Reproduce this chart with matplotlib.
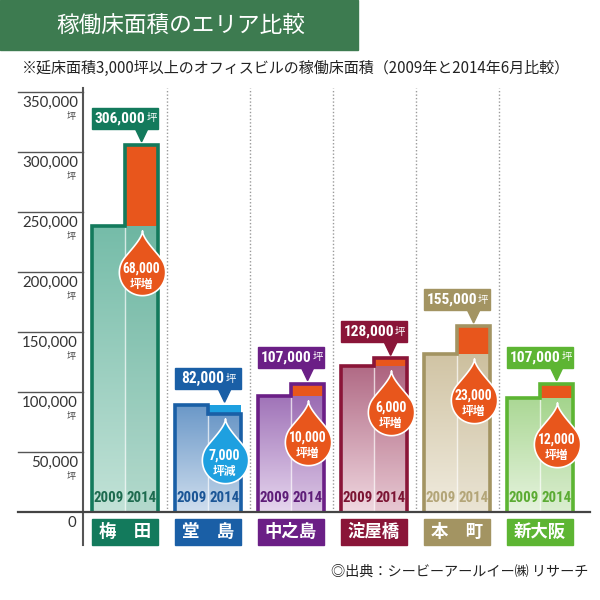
import numpy as np
import matplotlib
matplotlib.use('Agg')
import matplotlib.pyplot as plt
import matplotlib.transforms as mtransforms
from matplotlib import font_manager
from matplotlib.font_manager import FontProperties
from matplotlib.path import Path
from matplotlib.patches import Polygon, Rectangle
from matplotlib.colors import LinearSegmentedColormap

# fonts
JP = 'Noto Sans CJK JP'
plt.rcParams['font.family'] = [JP, 'DejaVu Sans']
names = {f.name for f in font_manager.fontManager.ttflist}
LIGHT = 'Lato' if 'Lato' in names else 'DejaVu Sans'


def pick_narrow():
    # look for a condensed / narrow bold face among the installed files
    files = sorted(f.fname for f in font_manager.fontManager.ttflist)
    for key in ('sansnarrow-bold', 'robotocondensed-bold', 'opensans_condensed-bold',
                'opensanscondensed-bold', 'notosans-condensedbold', 'condensed-bold',
                'condensedbold', 'narrow-bold'):
        for fn in files:
            low = fn.lower().replace(' ', '')
            if key in low and 'italic' not in low and 'oblique' not in low:
                return FontProperties(fname=fn)
    fam = 'Roboto' if 'Roboto' in names else 'DejaVu Sans'
    return FontProperties(family=fam, weight='bold')


NARROW = pick_narrow()

# data (坪)
areas = ['梅　田', '堂　島', '中之島', '淀屋橋', '本　町', '新大阪']
v2009 = [238000, 89000, 97000, 122000, 132000, 95000]
v2014 = [306000, 82000, 107000, 128000, 155000, 107000]
years = ['2009', '2014']
yticks = [0, 50000, 100000, 150000, 200000, 250000, 300000, 350000]

# colours per area
dark = ['#137a5c', '#1a5fa6', '#6b1f86', '#8a1538', '#a39462', '#5db533']
fill_top = ['#5fb19b', '#6b98c8', '#9868b2', '#ad6480', '#cbbd9a', '#a3d48b']
fill_bot = ['#c2e2d7', '#cfdeee', '#e6d6ee', '#f0d8e0', '#f0ebde', '#e6f3de']
year_col = ['#1d6b4f', '#1a5596', '#5e1d78', '#7c1433', '#b3a578', '#5bab33']
ORANGE = '#e8561c'
DECREASE = '#1ea0e0'


def nfont(size):
    fp = NARROW.copy()
    fp.set_size(size)
    return fp


fit = []      # (text, target width px)
callouts = []  # (number text, tsubo text)

fig = plt.figure(figsize=(6, 6), dpi=100)
fig.patch.set_facecolor('white')

# title band
fig.patches.append(Rectangle((0, 1 - 50 / 600), 358 / 600, 50 / 600,
                             transform=fig.transFigure, color='#3d7b50', zorder=0))
fig.text(56 / 600, 1 - 25 / 600, '稼働床面積のエリア比較', color='white',
         fontsize=16.3, va='center', ha='left')
fig.text(22 / 600, 1 - 68 / 600,
         '※延床面積3,000坪以上のオフィスビルの稼働床面積（2009年と2014年6月比較）',
         fontsize=10.85, va='center', ha='left', color='#222222')
fig.text(588 / 600, 1 - 572 / 600, '◎出典：シービーアールイー㈱ リサーチ',
         fontsize=10.2, ha='right', va='center', color='#222222')

ax = fig.add_axes([83 / 600, 88 / 600, 507 / 600, 420 / 600])
ax.axis('off')
PX = 350000 / 420  # one pixel in data units
W = 0.4
tr_y = mtransforms.blended_transform_factory(ax.transAxes, ax.transData)
tr_x = mtransforms.blended_transform_factory(ax.transData, ax.transAxes)


def drop_marker(h=1.8):
    al = np.arccos(1 / h)
    th = np.linspace(np.pi / 2 - al, -1.5 * np.pi + al, 90)
    arc = np.column_stack([np.cos(th), np.sin(th)])
    t = np.linspace(0, 1, 20)[:, None]
    d = np.array([np.cos(al), np.sin(al)])
    p0 = arc[-1]
    p1 = p0 + 0.35 * d
    p2 = np.array([0, h - 0.35])
    p3 = np.array([0, h])
    left = (1 - t)**3 * p0 + 3 * (1 - t)**2 * t * p1 + 3 * (1 - t) * t**2 * p2 + t**3 * p3
    right = left[::-1] * [-1, 1]
    verts = np.vstack([arc, left[1:], right[1:-1]])
    return Path(np.vstack([verts, verts[:1]]), closed=True)


DROP = drop_marker()

# axis lines and ticks
for v in yticks:
    if v > 0:
        ax.plot([-0.128, 0], [v, v], transform=tr_y, color='#555555', lw=1, clip_on=False)
        ax.text(-5 / 507, v - 11 * PX, f'{v:,}', transform=tr_y, ha='right', va='center',
                fontsize=10.8, family=[LIGHT, 'DejaVu Sans'], color='#333333')
        ax.text(-7 / 507, v - 25 * PX, '坪', transform=tr_y, ha='right', va='center',
                fontsize=6.5, color='#444444')
    else:
        ax.text(-7 / 507, -11 * PX, '0', transform=tr_y, ha='right', va='center',
                fontsize=10.8, family=[LIGHT, 'DejaVu Sans'], color='#333333')
ax.plot([-0.128, 1.0], [0, 0], transform=tr_y, color='#444444', lw=1.6, clip_on=False, zorder=6)
ax.plot([0, 0], [1.01, -0.079], transform=ax.transAxes, color='#555555', lw=1.5, clip_on=False)
for i in range(len(areas) - 1):
    ax.plot([i + 0.5, i + 0.5], [0, 1.01], transform=tr_x, color='#9a9a9a', lw=1,
            linestyle=(0, (1, 1.5)), clip_on=False, zorder=0.5)

grad = np.linspace(0, 1, 256).reshape(-1, 1)
for i, name in enumerate(areas):
    a, b = v2009[i], v2014[i]
    x0, xc, x1 = i - W, i, i + W
    hi, lo = max(a, b), min(a, b)
    verts = [(x0, 0), (x0, a), (xc, a), (xc, b), (x1, b), (x1, 0)]

    cmap = LinearSegmentedColormap.from_list('g%d' % i, [fill_bot[i], fill_top[i]])
    im = ax.imshow(grad, cmap=cmap, extent=(x0, x1, 0, hi), origin='lower',
                   aspect='auto', zorder=1, interpolation='bilinear')
    im.set_clip_path(Polygon(verts, closed=True, transform=ax.transData))
    ax.bar(xc, lo, width=W, align='edge', color=dark[i], alpha=0.08, zorder=1.5)

    if b > a:
        ax.bar(xc, b - a, bottom=a, width=W, align='edge', color=ORANGE, zorder=2)
    else:
        ax.bar(xc, a - b, bottom=b, width=W, align='edge', color=DECREASE, zorder=2)
    ax.plot([xc, xc], [0, lo - 2 * PX], color='white', alpha=0.7, lw=1, zorder=2.5)
    ax.add_patch(Polygon(verts, closed=False, fill=False, edgecolor=dark[i], lw=2.6,
                         joinstyle='miter', zorder=3))

    for k, yr in enumerate(years):
        t = ax.text(xc + (k - 0.5) * W, 14 * PX, yr, ha='center', va='center',
                    fontproperties=nfont(14), color=year_col[i], zorder=4)
        fit.append((t, 30))

    # drop with the change
    diff = b - a
    yc = lo - 46 * PX
    ax.plot(xc + W / 2, yc, marker=DROP, markersize=60, color=ORANGE if diff > 0 else DECREASE,
            markeredgecolor='white', markeredgewidth=1.2, zorder=5, clip_on=False)
    dl = f'{abs(diff):,}'
    t = ax.annotate(dl, (xc + W / 2, yc), xytext=(0, 3), textcoords='offset points',
                    ha='center', va='center', fontproperties=nfont(13), color='white', zorder=6)
    fit.append((t, 6.3 * len(dl)))
    ax.annotate('坪増' if diff > 0 else '坪減', (xc + W / 2, yc), xytext=(0, -8.5),
                textcoords='offset points', ha='center', va='center', fontsize=8.5,
                fontweight='bold', color='white', zorder=6)

    # value callout
    yb = hi + 16 * PX
    ax.add_patch(Rectangle((x0, yb), 2 * W, 21 * PX, color=dark[i], zorder=5, clip_on=False))
    ax.add_patch(Polygon([(xc + W / 2 - 0.075, yb + 1), (xc + W / 2 + 0.075, yb + 1),
                          (xc + W / 2, hi + 3 * PX)], closed=True, color=dark[i], zorder=5))
    lab = f'{b:,}'
    tn = ax.annotate(lab, (i, yb + 10.5 * PX), xytext=(0, 0), textcoords='offset points',
                     ha='center', va='center', fontproperties=nfont(13.5), color='white',
                     zorder=6)
    tk = ax.annotate('坪', (i, yb + 10.5 * PX), xytext=(0, 0), textcoords='offset points',
                     ha='left', va='center', fontsize=7.5, color='white', zorder=6)
    fit.append((tn, 7.2 * len(lab)))
    callouts.append((tn, tk))

    # area label
    ax.add_patch(Rectangle((x0, -7 / 420), 2 * W, -26 / 420, transform=tr_x,
                           color=dark[i], clip_on=False, zorder=5))
    ax.text(i, -20 / 420, name, transform=tr_x, ha='center', va='center', fontsize=12.5,
            fontweight='bold', color='white', zorder=6)

ax.set_xlim(-0.506, 5.602)
ax.set_ylim(0, 350000)

# shrink the narrow numbers to the widths seen in the chart
fig.canvas.draw()
r = fig.canvas.get_renderer()
for t, target in fit:
    w = t.get_window_extent(r).width
    if w > target:
        t.set_fontsize(t.get_fontsize() * target / w)
fig.canvas.draw()
for tn, tk in callouts:
    n = tn.get_window_extent(r).width
    k = tk.get_window_extent(r).width
    tn.xyann = (-k / 2 * 0.72, 0)
    tk.xyann = ((n / 2 - k / 2 + 1) * 0.72, 0)

fig.savefig('out.png', dpi=100, facecolor='white')
